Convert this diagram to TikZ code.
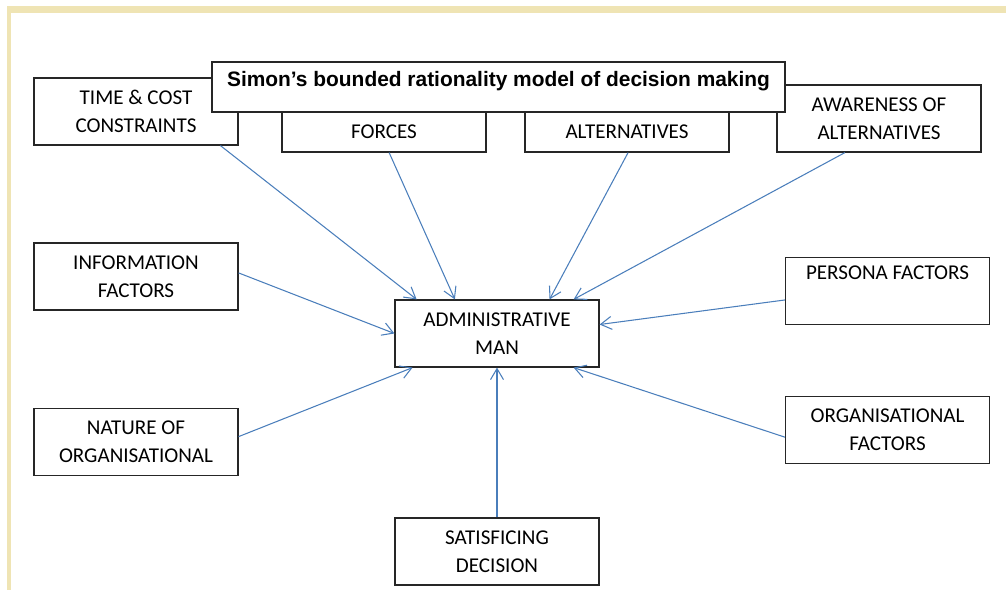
\documentclass[tikz,border=0pt]{standalone}
\usepackage{fontspec}
\setmainfont{Carlito}
\newfontfamily\titlefont{Liberation Sans}
\usetikzlibrary{arrows.meta}

\definecolor{framebar}{RGB}{239,228,180}
\definecolor{linkblue}{RGB}{74,126,187}

\begin{document}
\begin{tikzpicture}[x=0.02cm,y=-0.02cm,
    factor/.style={draw=black!85,line width=0.7pt,fill=white,minimum width=4.08cm,
      minimum height=1.34cm,inner sep=0pt,align=center,font=\fontsize{12}{15.9}\selectfont},
    link/.style={draw=linkblue,line width=0.6pt,-{Straight Barb[length=2.2mm,width=2.6mm]}}]
  \useasboundingbox (0,0) rectangle (1006,590);
  \fill[framebar] (7,6) rectangle (1006,13);
  \fill[framebar] (7,6) rectangle (11,590);

  % top row, partly under the title
  \node[factor] (time) at (136,111.5) {TIME \& COST\\CONSTRAINTS};
  \node[factor,minimum height=0.8cm] (forces) at (384,132) {FORCES};
  \node[factor,minimum height=0.8cm] (alter) at (627,132) {ALTERNATIVES};
  \node[factor] (aware) at (879,118.5) {AWARENESS OF\\ALTERNATIVES};
  \node[draw=black!85,line width=0.7pt,fill=white,inner sep=0pt,minimum width=11.46cm,
    text height=0.5cm,text depth=0.5cm,font=\titlefont\bfseries\fontsize{11.9}{13}\selectfont]
    (title) at (498.5,87) {Simon’s bounded rationality model of decision making};

  % sides
  \node[factor] (info) at (136,276.5) {INFORMATION\\FACTORS};
  \node[factor] (persona) at (887.5,291) {PERSONA FACTORS\\\strut};
  \node[factor] (admin) at (497,333.5) {ADMINISTRATIVE\\MAN};
  \node[factor] (nature) at (136,442) {NATURE OF\\ORGANISATIONAL};
  \node[factor] (orgf) at (887.5,430) {ORGANISATIONAL\\FACTORS};
  \node[factor] (satis) at (497,551.5) {SATISFICING\\DECISION};

  % links into the centre box
  \draw[link] (time.-22.5) -- (admin.157);
  \draw[link] (forces.-76) -- (admin.141.4);
  \draw[link] (alter.-87) -- (admin.33.3);
  \draw[link] (aware.-135.4) -- (admin.24.7);
  \draw[link] (info.2.5) -- (admin.west);
  \draw[link] (persona.-175) -- (admin.5.9);
  \draw[link] (nature.3.4) -- (admin.-158.7);
  \draw[link] (orgf.-176.6) -- (admin.-24.7);
  \draw[link] (satis.north) -- (admin.south);
\end{tikzpicture}
\end{document}
